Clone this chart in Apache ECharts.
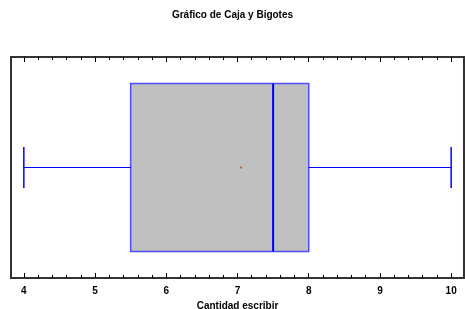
<!DOCTYPE html>
<html>
<head>
<meta charset="utf-8">
<script src="https://cdn.jsdelivr.net/npm/echarts@6/dist/echarts.min.js"></script>
<style>
html, body { margin: 0; padding: 0; background: #fff; }
#chart { width: 465px; height: 309px; }
</style>
</head>
<body>
<div id="chart"></div>
<script>
// box plot summary for "Cantidad escribir"
var lowerWhisker = [4];
var q1 = [5.5];
var median = [7.5];
var q3 = [8];
var upperWhisker = [10];
var mean = [7.05];
var tickValues = [4, 5, 6, 7, 8, 9, 10];

var minorValues = [];
for (var i = 0; i <= 32; i++) {
    minorValues.push(Math.round((3.8 + i * 0.2) * 10) / 10);
}

var boxData = [];
for (var k = 0; k < q1.length; k++) {
    boxData.push([lowerWhisker[k], q1[k], median[k], q3[k], upperWhisker[k], 0.5]);
}

var xMin = 3.82, xMax = 10.18;
var font = 'Liberation Sans, Arial, sans-serif';

function axis(pos, values, len, labels) {
    return {
        type: 'value',
        position: pos,
        min: xMin,
        max: xMax,
        axisLine: { show: false },
        splitLine: { show: false },
        axisTick: { show: true, inside: true, length: len, customValues: values,
            lineStyle: { color: '#000', width: 1 } },
        axisLabel: labels ? {
            show: true, customValues: tickValues, color: '#000', fontWeight: 'bold',
            fontSize: 10, fontFamily: font, margin: 8
        } : { show: false },
        name: labels ? 'Cantidad escribir' : '',
        nameLocation: 'middle',
        nameGap: 21,
        nameTextStyle: { color: '#000', fontWeight: 'bold', fontSize: 10, fontFamily: font }
    };
}

var chart = echarts.init(document.getElementById('chart'));
chart.setOption({
    animation: false,
    title: {
        text: 'Gráfico de Caja y Bigotes',
        left: 'center',
        top: 5,
        textStyle: { fontSize: 10, fontWeight: 'bold', color: '#000', fontFamily: font }
    },
    grid: {
        left: 11, right: 1, top: 57, bottom: 31,
        outerBoundsMode: 'none',
        containLabel: false,
        show: true, borderColor: '#333', borderWidth: 2, backgroundColor: '#fff'
    },
    xAxis: [
        axis('bottom', tickValues, 5, true),
        axis('bottom', minorValues, 3, false),
        axis('top', tickValues, 5, false),
        axis('top', minorValues, 3, false)
    ],
    yAxis: { type: 'value', min: 0, max: 1, show: false },
    series: [
        {
            type: 'custom',
            xAxisIndex: 0,
            data: boxData,
            renderItem: function (params, api) {
                var y = api.value(5);
                var top = api.coord([api.value(1), y + 0.38])[1];
                var bot = api.coord([api.value(1), y - 0.38])[1];
                var capT = api.coord([api.value(0), y + 0.093])[1];
                var capB = api.coord([api.value(0), y - 0.093])[1];
                var pMin = api.coord([api.value(0), y]);
                var pQ1 = api.coord([api.value(1), y]);
                var pMed = api.coord([api.value(2), y]);
                var pQ3 = api.coord([api.value(3), y]);
                var pMax = api.coord([api.value(4), y]);
                var wy = Math.floor(pMin[1]) + 0.5;
                var blue = '#0000ff';
                return {
                    type: 'group',
                    children: [
                        { type: 'rect', shape: { x: pQ1[0], y: top, width: pQ3[0] - pQ1[0], height: bot - top },
                          style: { fill: '#c0c0c0', stroke: '#4d4dff', lineWidth: 1.5 } },
                        { type: 'line', shape: { x1: pMed[0], y1: top, x2: pMed[0], y2: bot },
                          style: { stroke: blue, lineWidth: 2 } },
                        { type: 'line', shape: { x1: pMin[0], y1: wy, x2: pQ1[0], y2: wy },
                          style: { stroke: blue, lineWidth: 1 } },
                        { type: 'line', shape: { x1: pQ3[0], y1: wy, x2: pMax[0], y2: wy },
                          style: { stroke: blue, lineWidth: 1 } },
                        { type: 'line', shape: { x1: pMin[0], y1: capT, x2: pMin[0], y2: capB },
                          style: { stroke: blue, lineWidth: 1.5 } },
                        { type: 'line', shape: { x1: pMax[0], y1: capT, x2: pMax[0], y2: capB },
                          style: { stroke: blue, lineWidth: 1.5 } }
                    ]
                };
            }
        },
        {
            type: 'scatter',
            xAxisIndex: 0,
            data: mean.map(function (m) { return [m, 0.5]; }),
            symbol: 'rect',
            symbolSize: 2,
            itemStyle: { color: '#b0501a' }
        }
    ]
});
</script>
</body>
</html>
